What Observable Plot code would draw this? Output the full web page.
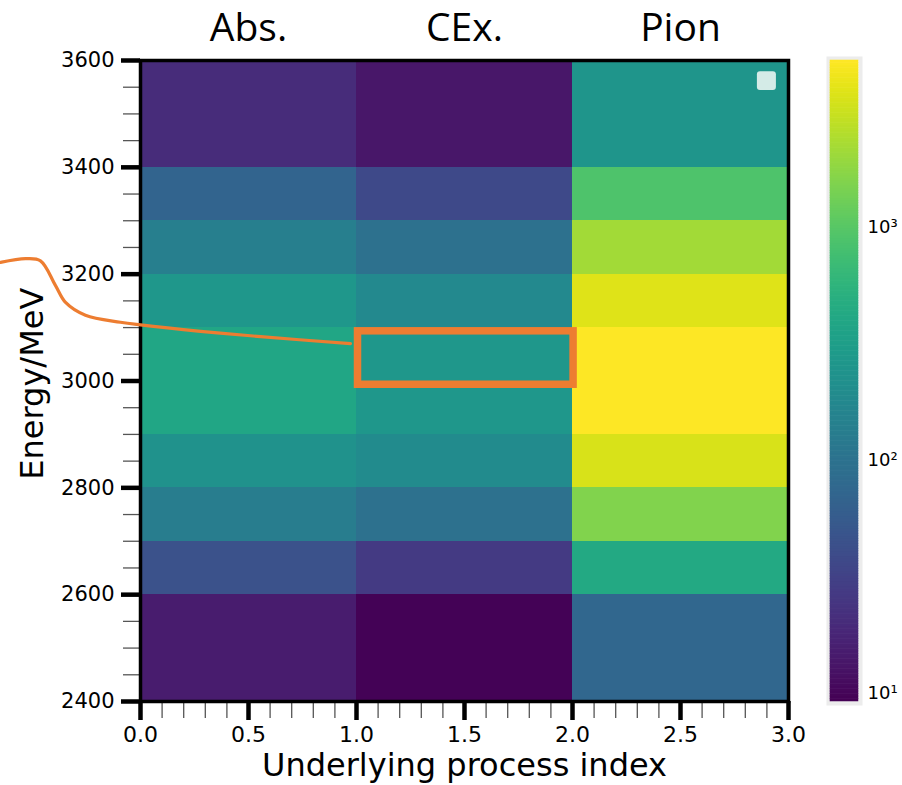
<!DOCTYPE html>
<html>
<head>
<meta charset="utf-8">
<script src="https://cdn.jsdelivr.net/npm/d3@7"></script>
<script src="https://cdn.jsdelivr.net/npm/@observablehq/plot@0.6"></script>
<style>
  html, body { margin: 0; padding: 0; background: white; }
  #wrap { position: relative; width: 902px; height: 785px; overflow: hidden; }
  #wrap svg { position: absolute; left: 0; top: 0; }
</style>
</head>
<body>
<div id="wrap"></div>
<script>
// ---- data ----
const processes = ["Abs.", "CEx.", "Pion"];
const processIndex = [0, 1, 2];
const energyEdges = [2400, 2600, 2700, 2800, 2900, 3100, 3200, 3300, 3400, 3600];
// counts per energy bin, from lowest bin (2400-2600) to highest (3400-3600)
const absCounts  = [15, 45, 132, 235, 390, 263, 140, 70, 20];
const cexCounts  = [9.5, 27, 96, 192, 263, 182, 96, 37, 13.5];
const pionCounts = [74, 420, 1550, 3550, 5200, 3800, 2140, 890, 250];
const yMajorTicks = [2400, 2600, 2800, 3000, 3200, 3400, 3600];
const xMajorTicks = [0, 0.5, 1, 1.5, 2, 2.5, 3];
const colorTicks = [10, 100, 1000];
const colorTickLabels = ["10¹", "10²", "10³"];
const colorDomain = [9.2, 5200];
// annotation (orange callout) in data units
const calloutPath = [
  [-0.648, 3222], [-0.532, 3229], [-0.463, 3225], [-0.394, 3179], [-0.347, 3147],
  [-0.255, 3123], [-0.093, 3110], [0, 3105], [0.278, 3093], [0.556, 3083], [0.972, 3070]
];
const calloutBox = [{x1: 1.007, x2: 2.005, y1: 2993, y2: 3093}];
const legendHandle = [{x1: 2.856, x2: 2.944, y1: 3544, y2: 3579}];
const yLabel = [{x: -0.497, y: 2995, text: "Energy/MeV"}];
const xLabel = [{x: 1.5, y: 2280, text: "Underlying process index"}];

// ---- table ----
const series = [absCounts, cexCounts, pionCounts];
const cells = [];
series.forEach((vals, i) => {
  vals.forEach((v, j) => {
    cells.push({x1: processIndex[i], x2: processIndex[i] + 1, y1: energyEdges[j], y2: energyEdges[j + 1], v});
  });
});
const titles = processes.map((p, i) => ({x: processIndex[i] + 0.5, label: p}));

const colorOpts = {type: "log", domain: colorDomain, scheme: "viridis"};

const W = 902, H = 785;
const main = Plot.plot({
  width: W, height: H,
  marginLeft: 140, marginRight: W - 788, marginTop: 60, marginBottom: H - 701,
  x: {domain: [0, 3]},
  y: {domain: [2400, 3600]},
  color: colorOpts,
  style: {fontFamily: "DejaVu Sans", background: "white", overflow: "visible"},
  marks: [
    Plot.rect(cells, {x1: "x1", x2: "x2", y1: "y1", y2: "y2", fill: "v", shapeRendering: "crispEdges"}),
    // minor ticks
    Plot.axisY(d3.range(2400, 3601, 50), {tickSize: 17, stroke: "#555", strokeWidth: 1.3, tickFormat: () => "", label: null}),
    Plot.axisX(d3.range(0, 3.001, 0.1), {tickSize: 17, stroke: "#555", strokeWidth: 1.3, tickFormat: () => "", label: null}),
    // major ticks
    Plot.axisY(yMajorTicks, {tickSize: 19, strokeWidth: 4.5, stroke: "black", tickPadding: 7, fontSize: 21, fill: "black", label: null, tickFormat: d => String(d)}),
    Plot.axisX(xMajorTicks, {tickSize: 19, strokeWidth: 4.5, stroke: "black", tickPadding: 6, fontSize: 22, fill: "black", label: null, tickFormat: d => d.toFixed(1)}),
    Plot.frame({stroke: "black", strokeWidth: 3.5}),
    // column titles
    Plot.text(titles, {x: "x", y: () => 3600, text: "label", dy: -32, fontSize: 39, fontFamily: "Open Sans", fill: "black", lineAnchor: "middle"}),
    // axis labels
    Plot.text(yLabel, {x: "x", y: "y", text: "text", rotate: -90, fontSize: 32, fill: "black", lineAnchor: "middle"}),
    Plot.text(xLabel, {x: "x", y: "y", text: "text", fontSize: 32, fill: "black", lineAnchor: "middle"}),
    // legend handle
    Plot.rect(legendHandle, {x1: "x1", x2: "x2", y1: "y1", y2: "y2", fill: "#d4ebe7", rx: 3}),
    // callout
    Plot.line(calloutPath, {x: d => d[0], y: d => d[1], stroke: "#ED7D31", strokeWidth: 3.2, curve: "catmull-rom"}),
    Plot.rect(calloutBox, {x1: "x1", x2: "x2", y1: "y1", y2: "y2", fill: "none", stroke: "#ED7D31", strokeWidth: 7.5})
  ]
});

// colorbar
const lo = Math.log10(colorDomain[0]), hi = Math.log10(colorDomain[1]);
const N = 256;
const bands = d3.range(N).map(i => ({
  y1: Math.pow(10, lo + (hi - lo) * i / N),
  y2: Math.pow(10, lo + (hi - lo) * (i + 1) / N),
  v: Math.pow(10, lo + (hi - lo) * (i + 0.5) / N)
}));
const cbar = Plot.plot({
  width: W, height: H,
  marginLeft: 830, marginRight: W - 858, marginTop: 60, marginBottom: H - 701,
  x: {domain: [0, 1], axis: null},
  y: {type: "log", domain: colorDomain, axis: null},
  color: colorOpts,
  style: {fontFamily: "DejaVu Sans", background: "transparent", overflow: "visible"},
  marks: [
    Plot.frame({stroke: "#ececec", strokeWidth: 4, inset: -2}),
    Plot.rect(bands, {x1: 0, x2: 1, y1: "y1", y2: "y2", fill: "v", inset: -0.3}),
    Plot.axisY(colorTicks, {anchor: "right", tickSize: 0, tickPadding: 9, fontSize: 18, fill: "black", label: null,
      tickFormat: d => colorTickLabels[colorTicks.indexOf(d)]})
  ]
});

document.getElementById("wrap").append(main, cbar);
</script>
</body>
</html>
